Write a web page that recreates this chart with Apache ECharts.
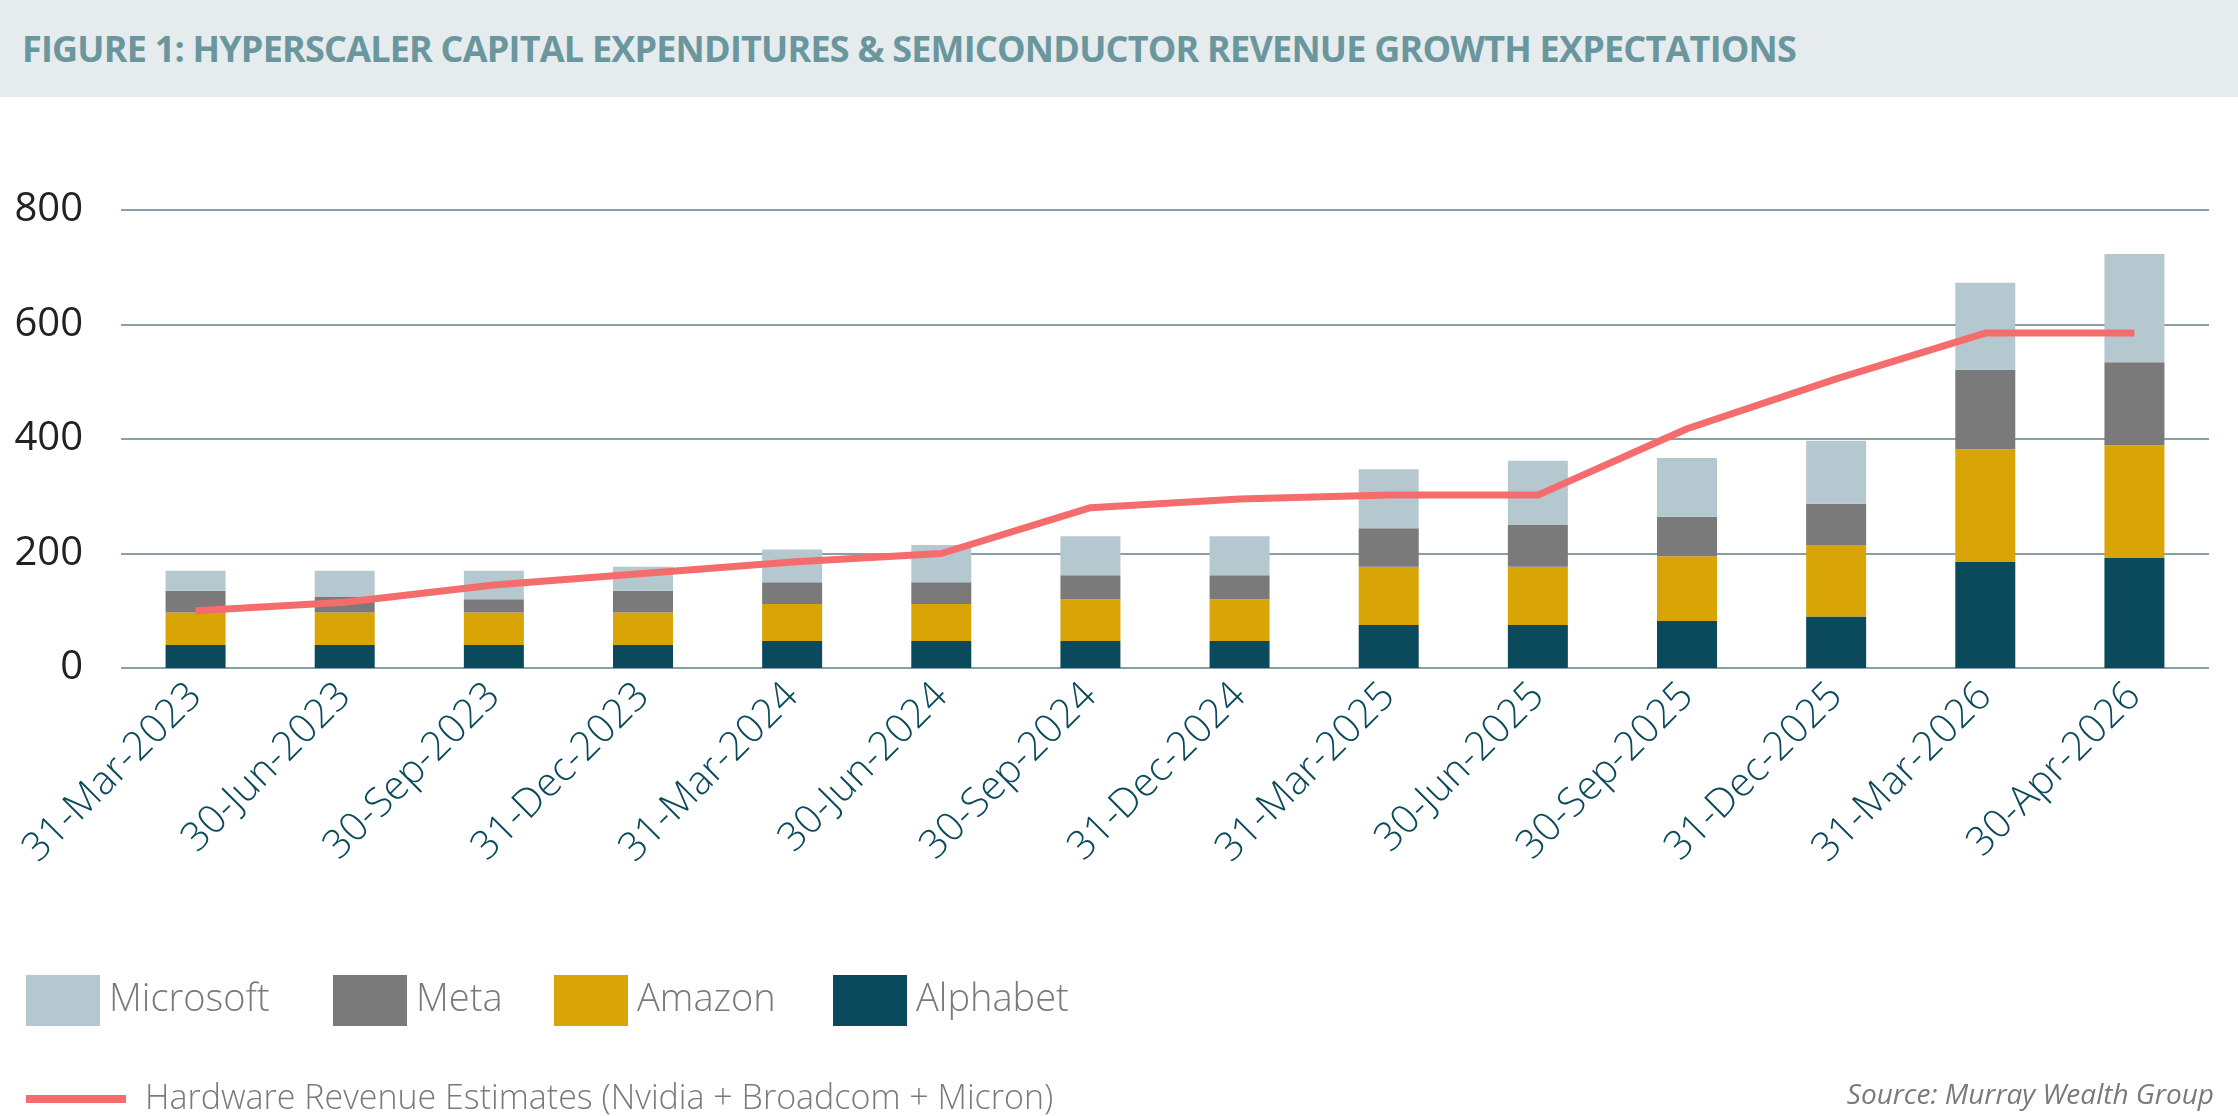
<html>
  <head>
    <meta charset="utf-8" />
    <title>Figure 1</title>
    <style>
      body { margin: 0; background: #ffffff; }
      #title { position: absolute; left: 0; top: 0; width: 2238px; height: 97px; background: #e6ebed;
        font-family: "Open Sans", sans-serif; font-weight: 700; font-size: 36px; color: #6a979d;
        line-height: 97px; padding-left: 22px; box-sizing: border-box; letter-spacing: -0.8px; }
      #chart { position: absolute; left: 0; top: 0; width: 2238px; height: 1116px; }
      #source { position: absolute; right: 24px; top: 1074px; font-family: "Open Sans", sans-serif;
        font-style: italic; font-size: 28px; color: #7a7a7a; }
    </style>
  </head>
  <body>
    <div id="chart"></div>
    <div id="title">FIGURE 1: HYPERSCALER CAPITAL EXPENDITURES &amp; SEMICONDUCTOR REVENUE GROWTH EXPECTATIONS</div>
    <div id="source">Source: Murray Wealth Group</div>
    <script src="https://cdn.jsdelivr.net/npm/echarts@6/dist/echarts.min.js"></script>
    <script type="text/javascript">
      var categories = ["31-Mar-2023", "30-Jun-2023", "30-Sep-2023", "31-Dec-2023", "31-Mar-2024", "30-Jun-2024",
        "30-Sep-2024", "31-Dec-2024", "31-Mar-2025", "30-Jun-2025", "30-Sep-2025", "31-Dec-2025", "31-Mar-2026", "30-Apr-2026"];
      var alphabet = [40, 40, 40, 40, 47, 47, 47, 47, 75, 75, 82, 90, 185, 192];
      var amazon = [57, 57, 57, 57, 65, 65, 73, 73, 102, 102, 113, 125, 197, 197];
      var meta = [38, 28, 23, 38, 38, 38, 42, 42, 67, 73, 69, 72, 139, 145];
      var microsoft = [35, 45, 50, 42, 57, 65, 68, 68, 103, 112, 103, 110, 152, 189];
      var hardware = [100, 115, 145, 165, 185, 200, 280, 295, 302, 302, 418, 505, 585, 585];

      var chart = echarts.init(document.getElementById("chart"));
      var font = "Open Sans";
      function legendAt(name, left) {
        return {
          data: [name], left: left, top: 970, itemWidth: 74, itemHeight: 51, icon: "rect",
          textStyle: { fontFamily: font, fontWeight: 300, fontSize: 38, color: "#7a7a7a", padding: [0, 0, 0, 4] }
        };
      }
      function bar(name, data, color) {
        return { name: name, type: "bar", stack: "capex", data: data, barWidth: 60,
          itemStyle: { color: color }, z: 2 };
      }
      chart.setOption({
        animation: false,
        grid: { left: 121, right: 29, top: 210, bottom: 448 },
        legend: [
          legendAt("Microsoft", 21), legendAt("Meta", 328), legendAt("Amazon", 549), legendAt("Alphabet", 828),
          { data: ["Hardware Revenue Estimates (Nvidia + Broadcom + Micron)"], left: 21, top: 1077,
            itemWidth: 100, itemHeight: 8, icon: "rect",
            textStyle: { fontFamily: font, fontWeight: 300, fontSize: 34, color: "#7a7a7a", padding: [0, 0, 0, 14] } }
        ],
        xAxis: {
          type: "category", data: categories,
          axisLine: { show: false }, axisTick: { show: false },
          axisLabel: { rotate: 45, interval: 0, fontFamily: font, fontWeight: 300, fontSize: 40, color: "#0b4a5c", margin: 22 }
        },
        yAxis: {
          type: "value", min: 0, max: 800, interval: 200,
          axisLabel: { fontFamily: font, fontSize: 40, color: "#222222", margin: 38 },
          splitLine: { lineStyle: { color: "#5f7f8a", width: 1.5 } }
        },
        series: [
          bar("Alphabet", alphabet, "#0b4a5c"),
          bar("Amazon", amazon, "#d9a406"),
          bar("Meta", meta, "#7a7a7a"),
          bar("Microsoft", microsoft, "#b6c8cf"),
          { name: "Hardware Revenue Estimates (Nvidia + Broadcom + Micron)", type: "line", data: hardware,
            showSymbol: false, symbol: "none", z: 5,
            lineStyle: { color: "#f56c6c", width: 7 }, itemStyle: { color: "#f56c6c" } }
        ]
      });
    </script>
  </body>
</html>
